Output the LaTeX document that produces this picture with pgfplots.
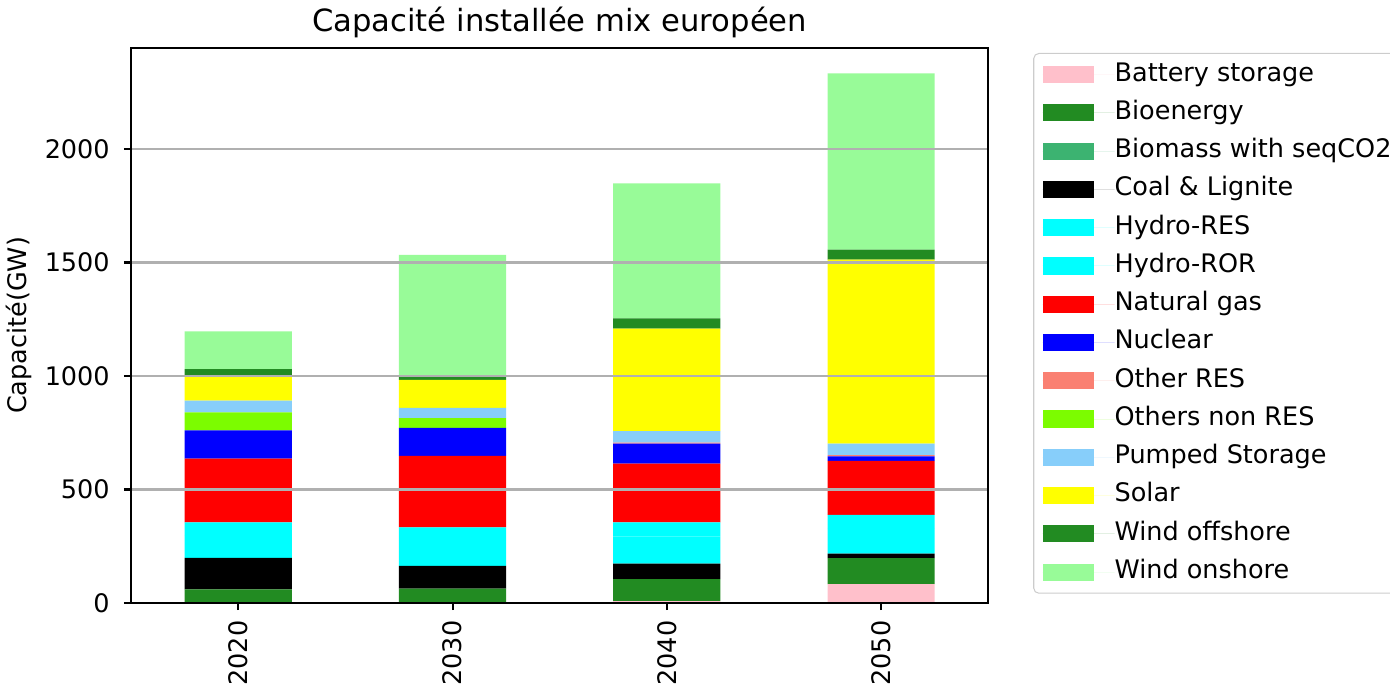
\documentclass[border=0pt]{standalone}
\usepackage{fontspec}
\setmainfont{DejaVu Sans}
\usepackage{pgfplots}
\pgfplotsset{compat=1.18}
\definecolor{cbattery}{RGB}{255,192,203}
\definecolor{cbio}{RGB}{34,139,34}
\definecolor{cbioseq}{RGB}{60,179,113}
\definecolor{ccoal}{RGB}{0,0,0}
\definecolor{chydro}{RGB}{0,255,255}
\definecolor{cgas}{RGB}{255,0,0}
\definecolor{cnuc}{RGB}{0,0,255}
\definecolor{cotherres}{RGB}{250,128,114}
\definecolor{cothernon}{RGB}{124,252,0}
\definecolor{cpumped}{RGB}{135,206,250}
\definecolor{csolar}{RGB}{255,255,0}
\definecolor{coff}{RGB}{34,139,34}
\definecolor{con}{RGB}{152,251,152}
\definecolor{cgrid}{RGB}{176,176,176}
\begin{document}
\begin{tikzpicture}
\useasboundingbox (-51.4pt,-35.3pt) rectangle (493.5pt,236.4pt);
\begin{axis}[
  at={(0,0)}, anchor=south west,
  width=336pt, height=217.6pt, scale only axis,
  ybar stacked, bar width=0.5,
  xmin=-0.5, xmax=3.5, ymin=0, ymax=2445,
  xtick={0,1,2,3}, xticklabels={2020,2030,2040,2050},
  ytick={0,500,1000,1500,2000},
  /pgf/number format/assume math mode=true,
  /pgf/number format/1000 sep={},
  ticklabel style={font=\fontsize{10}{12}\selectfont},
  xticklabel style={yshift=-3.9pt, rotate=90, anchor=east, inner sep=0pt},
  yticklabel style={anchor=east, inner sep=0pt, xshift=-5.4pt},
  tick pos=left, tick align=outside, major tick length=2.8pt,
  tick style={black, line width=0.8pt},
  axis line style={line width=0.8pt, black},
  ymajorgrids, grid style={cgrid, line width=0.8pt},
  axis on top,
  every axis title shift=0pt,
  title={Capacité installée mix européen},
  title style={at={(axis description cs:0.5,1)}, anchor=base, yshift=6.3pt, inner sep=0pt, font=\fontsize{12}{14}\selectfont},
  ylabel={Capacité(GW)},
  ylabel style={at={(axis description cs:-0.1155,0.5)}, anchor=south, inner sep=0pt, font=\fontsize{10}{12}\selectfont},
  legend cell align=left,
  legend image code/.code={\fill[#1, sharp corners] (0pt,-3.35pt) rectangle (20pt,3.35pt); \path (0pt,0pt) -- (28.2pt,0pt);},
  legend style={at={(1.0525,0.991)}, anchor=north west, draw=black!20, rounded corners=2pt, inner sep=3.5pt,
    font=\fontsize{10}{12}\selectfont, row sep=5.4pt,
    nodes={inner sep=0pt, text height=7.3pt, text depth=2.3pt}},
]
\addplot[fill=cbattery, draw=none] coordinates {(0,0) (1,0) (2,8) (3,83)};
\addlegendentry{Battery storage}
\addplot[fill=cbio, draw=none] coordinates {(0,60) (1,64) (2,97) (3,115)};
\addlegendentry{Bioenergy}
\addplot[fill=cbioseq, draw=none] coordinates {(0,0) (1,0) (2,0) (3,0)};
\addlegendentry{Biomass with seqCO2}
\addplot[fill=ccoal, draw=none] coordinates {(0,139) (1,100) (2,69) (3,20)};
\addlegendentry{Coal \& Lignite}
\addplot[fill=chydro, draw=none] coordinates {(0,100) (1,110) (2,120) (3,112)};
\addlegendentry{Hydro-RES}
\addplot[fill=chydro, draw=none] coordinates {(0,56) (1,59) (2,61) (3,58)};
\addlegendentry{Hydro-ROR}
\addplot[fill=cgas, draw=none] coordinates {(0,281) (1,315) (2,259) (3,238)};
\addlegendentry{Natural gas}
\addplot[fill=cnuc, draw=none] coordinates {(0,124) (1,124) (2,88) (3,20)};
\addlegendentry{Nuclear}
\addplot[fill=cotherres, draw=none] coordinates {(0,0) (1,0) (2,5) (3,5)};
\addlegendentry{Other RES}
\addplot[fill=cothernon, draw=none] coordinates {(0,80) (1,43) (2,0) (3,0)};
\addlegendentry{Others non RES}
\addplot[fill=cpumped, draw=none] coordinates {(0,52) (1,45) (2,50) (3,51)};
\addlegendentry{Pumped Storage}
\addplot[fill=csolar, draw=none] coordinates {(0,106) (1,123) (2,452) (3,811)};
\addlegendentry{Solar}
\addplot[fill=coff, draw=none] coordinates {(0,32) (1,15) (2,45) (3,44)};
\addlegendentry{Wind offshore}
\addplot[fill=con, draw=none] coordinates {(0,167) (1,536) (2,595) (3,776)};
\addlegendentry{Wind onshore}
\end{axis}
\end{tikzpicture}
\end{document}
